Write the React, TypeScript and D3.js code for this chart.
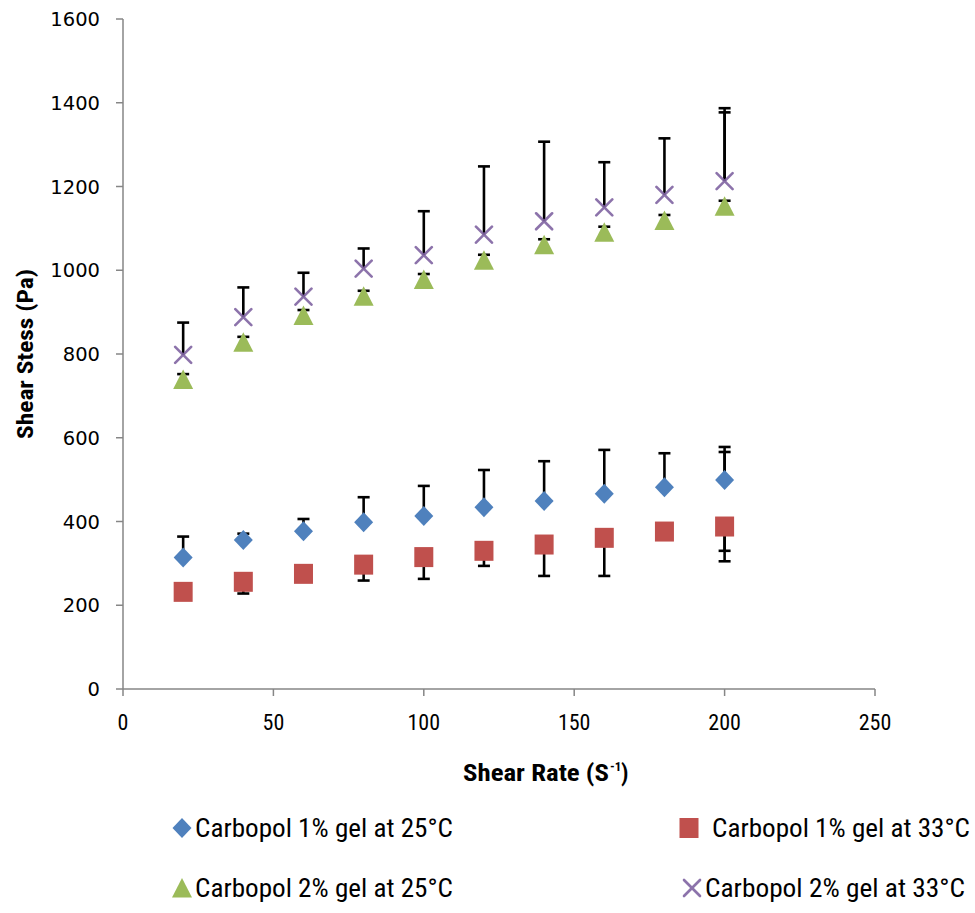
import React from "react";
import * as d3 from "d3";

const shearRate = [20, 40, 60, 80, 100, 120, 140, 160, 180, 200];

const c1At25 = [314, 356, 377, 398, 413, 434, 449, 466, 482, 499];
const c1At25ErrPlus = [50, 15, 29, 60, 72, 89, 95, 105, 81, 79];
const c1At25ErrPlusAlt = [null, null, null, null, null, null, null, null, null, 67];

const c1At33 = [232, 256, 275, 297, 315, 330, 345, 361, 376, 388];
const c1At33ErrMinus = [10, 28, 12, 38, 52, 36, 75, 91, 10, 58];
const c1At33ErrMinusAlt = [null, null, null, null, null, null, null, null, null, 83];

const c2At25 = [739, 828, 892, 938, 978, 1024, 1061, 1091, 1119, 1153];
const c2At25ErrPlus = [13, 13, 13, 13, 13, 13, 13, 13, 13, 13];

const c2At33 = [798, 888, 937, 1004, 1036, 1085, 1117, 1150, 1180, 1213];
const c2At33ErrPlus = [77, 71, 57, 48, 105, 163, 190, 108, 135, 174];
const c2At33ErrPlusAlt = [null, null, null, null, null, null, null, null, null, 164];

const xTicks = [0, 50, 100, 150, 200, 250];
const yTicks = [0, 200, 400, 600, 800, 1000, 1200, 1400, 1600];

const legendLabels = [
  "Carbopol 1% gel at 25°C",
  "Carbopol 1% gel at 33°C",
  "Carbopol 2% gel at 25°C",
  "Carbopol 2% gel at 33°C",
];

const BLUE = "#4F81BD";
const RED = "#C0504D";
const GREEN = "#9BBB59";
const PURPLE = "#8064A2";
const AXIS = "#868686";
const narrow = "'Liberation Sans Narrow', 'Arial Narrow', 'Roboto Condensed', 'Liberation Sans', sans-serif";
const calib = "'Open Sans', 'Liberation Sans', sans-serif";

type Kind = "diamond" | "square" | "triangle" | "x";

function Marker({ kind, cx, cy }: { kind: Kind; cx: number; cy: number }) {
  if (kind === "diamond") {
    return <path d={`M${cx},${cy - 10}L${cx + 9.5},${cy}L${cx},${cy + 10}L${cx - 9.5},${cy}Z`} fill={BLUE} />;
  }
  if (kind === "square") {
    return <rect x={cx - 9.5} y={cy - 10} width={19} height={20} fill={RED} />;
  }
  if (kind === "triangle") {
    return <path d={`M${cx},${cy - 10}L${cx + 10},${cy + 9.5}L${cx - 10},${cy + 9.5}Z`} fill={GREEN} />;
  }
  return (
    <g stroke={PURPLE} strokeWidth={2.6} strokeLinecap="round" opacity={0.9}>
      <line x1={cx - 8} y1={cy - 8} x2={cx + 8} y2={cy + 8} />
      <line x1={cx - 8} y1={cy + 8} x2={cx + 8} y2={cy - 8} />
    </g>
  );
}

export default function App() {
  const x = d3.scaleLinear().domain([0, 250]).range([123, 875]);
  const y = d3.scaleLinear().domain([0, 1600]).range([689, 19]);

  const errBar = (xv: number, yv: number, e: number | null, dir: 1 | -1, key: string) => {
    if (e == null) return null;
    const px = x(xv);
    const y0 = y(yv);
    const y1 = y(yv + dir * e);
    return (
      <g key={key} stroke="#000" strokeWidth={2.6}>
        <line x1={px} x2={px} y1={y0} y2={y1} />
        <line x1={px - 6} x2={px + 6} y1={y1} y2={y1} />
      </g>
    );
  };

  const series: { vals: number[]; kind: Kind }[] = [
    { vals: c1At25, kind: "diamond" },
    { vals: c1At33, kind: "square" },
    { vals: c2At25, kind: "triangle" },
    { vals: c2At33, kind: "x" },
  ];

  const legend: { kind: Kind; lx: number; ly: number; label: string; tx: number; w: number }[] = [
    { kind: "diamond", lx: 182, ly: 828, label: legendLabels[0], tx: 195, w: 258 },
    { kind: "square", lx: 689, ly: 828, label: legendLabels[1], tx: 712, w: 258 },
    { kind: "triangle", lx: 182, ly: 888, label: legendLabels[2], tx: 195, w: 258 },
    { kind: "x", lx: 692, ly: 888, label: legendLabels[3], tx: 705, w: 260 },
  ];

  return (
    <svg width={975} height={913} style={{ position: "absolute", left: 0, top: 0, background: "#fff" }}>
      <rect width={975} height={913} fill="#fff" />
      {/* axes */}
      <line x1={123} x2={123} y1={y(1600)} y2={y(0)} stroke={AXIS} strokeWidth={1.5} />
      <line x1={123} x2={x(250)} y1={y(0)} y2={y(0)} stroke={AXIS} strokeWidth={1.5} />
      {yTicks.map((t) => (
        <g key={"y" + t}>
          <line x1={116} x2={123} y1={y(t)} y2={y(t)} stroke={AXIS} strokeWidth={1.5} />
          <text x={100} y={y(t)} dy="0.36em" textAnchor="end" fontFamily="'DejaVu Sans', Verdana, sans-serif" fontSize={19.5} fill="#000">
            {t}
          </text>
        </g>
      ))}
      {xTicks.map((t) => (
        <g key={"x" + t}>
          <line x1={x(t)} x2={x(t)} y1={y(0)} y2={y(0) + 7} stroke={AXIS} strokeWidth={1.5} />
          <text x={x(t)} y={722} dy="0.36em" textAnchor="middle" fontFamily={narrow} fontSize={22} fill="#000">
            {t}
          </text>
        </g>
      ))}
      <text x={463} y={773} dy="0.36em" fontFamily={narrow} fontWeight="bold" fontSize={23} fill="#000" textLength={146} lengthAdjust="spacingAndGlyphs">
        Shear Rate (S
      </text>
      <text x={610} y={766} dy="0.36em" fontFamily={narrow} fontWeight="bold" fontSize={13} fill="#000">
        -1
      </text>
      <text x={621} y={773} dy="0.36em" fontFamily={narrow} fontWeight="bold" fontSize={23} fill="#000">
        )
      </text>
      <text transform="translate(25,354) rotate(-90)" textAnchor="middle" dy="0.36em" fontFamily={narrow} fontWeight="bold" fontSize={22} fill="#000" textLength={170} lengthAdjust="spacingAndGlyphs">
        Shear Stess (Pa)
      </text>

      {/* error bars */}
      {shearRate.map((s, i) => errBar(s, c1At25[i], c1At25ErrPlus[i], 1, "e1" + i))}
      {shearRate.map((s, i) => errBar(s, c1At25[i], c1At25ErrPlusAlt[i], 1, "e1a" + i))}
      {shearRate.map((s, i) => errBar(s, c1At33[i], c1At33ErrMinus[i], -1, "e2" + i))}
      {shearRate.map((s, i) => errBar(s, c1At33[i], c1At33ErrMinusAlt[i], -1, "e2a" + i))}
      {shearRate.map((s, i) => errBar(s, c2At25[i], c2At25ErrPlus[i], 1, "e3" + i))}
      {shearRate.map((s, i) => errBar(s, c2At33[i], c2At33ErrPlus[i], 1, "e4" + i))}
      {shearRate.map((s, i) => errBar(s, c2At33[i], c2At33ErrPlusAlt[i], 1, "e4a" + i))}

      {/* markers */}
      {series.map((se, si) => (
        <g key={"s" + si}>
          {se.vals.map((v, i) => (
            <Marker key={i} kind={se.kind} cx={x(shearRate[i])} cy={y(v)} />
          ))}
        </g>
      ))}

      {/* legend */}
      {legend.map((l, i) => (
        <g key={"l" + i}>
          <Marker kind={l.kind} cx={l.lx} cy={l.ly} />
          <text x={l.tx} y={l.ly} dy="0.36em" fontFamily={narrow} fontSize={25} fill="#000" textLength={l.w} lengthAdjust="spacingAndGlyphs">
            {l.label}
          </text>
        </g>
      ))}
    </svg>
  );
}
